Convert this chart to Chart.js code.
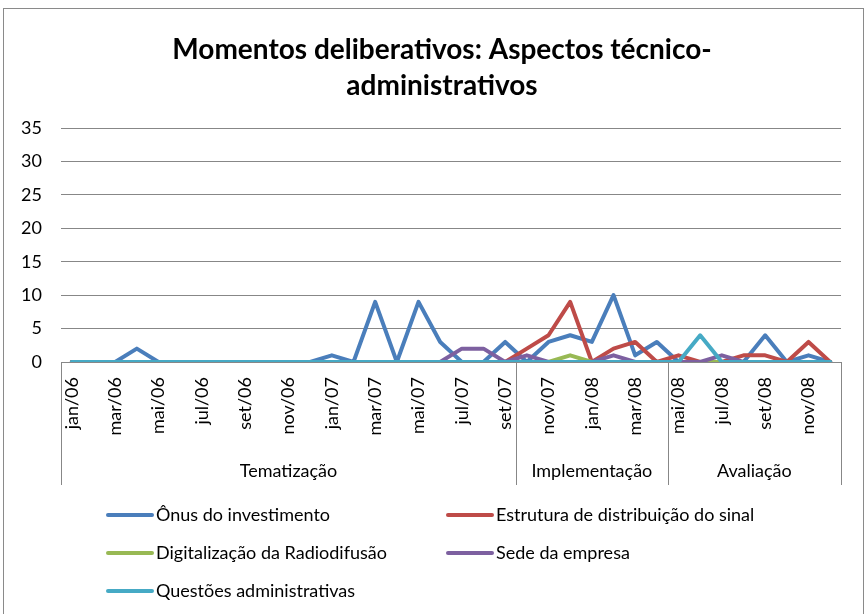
<!DOCTYPE html>
<html>
<head>
<meta charset="utf-8">
<script src="https://cdn.jsdelivr.net/npm/chart.js@4/dist/chart.umd.min.js"></script>
<style>
  html, body { margin: 0; padding: 0; background: #ffffff; }
  #wrap { position: relative; width: 867px; height: 614px; }
  canvas { display: block; }
</style>
</head>
<body>
<div id="wrap"><canvas id="chart" width="867" height="614"></canvas></div>
<script>
// Monthly categories, jan/06 .. dez/08
const months = [
  'jan/06','fev/06','mar/06','abr/06','mai/06','jun/06','jul/06','ago/06','set/06','out/06','nov/06','dez/06',
  'jan/07','fev/07','mar/07','abr/07','mai/07','jun/07','jul/07','ago/07','set/07','out/07','nov/07','dez/07',
  'jan/08','fev/08','mar/08','abr/08','mai/08','jun/08','jul/08','ago/08','set/08','out/08','nov/08','dez/08'
];

// Phase grouping of the months (second level of the category axis)
const phases = ['Tematização', 'Implementação', 'Avaliação'];
const phaseLengths = [21, 7, 8];

// Series
const onusInvestimento = [0,0,0,2,0,0,0,0,0,0,0,0, 1,0,9,0,9,3,0,0,3,0,3,4, 3,10,1,3,0,0,0,0,4,0,1,0];
const estruturaSinal   = [0,0,0,0,0,0,0,0,0,0,0,0, 0,0,0,0,0,0,0,0,0,2,4,9, 0,2,3,0,1,0,0,1,1,0,3,0];
const digitalizacao    = [0,0,0,0,0,0,0,0,0,0,0,0, 0,0,0,0,0,0,0,0,0,0,0,1, 0,0,0,0,0,0,0,0,0,0,0,0];
const sedeEmpresa      = [0,0,0,0,0,0,0,0,0,0,0,0, 0,0,0,0,0,0,2,2,0,1,0,0, 0,1,0,0,0,0,1,0,0,0,0,0];
const questoesAdmin    = [0,0,0,0,0,0,0,0,0,0,0,0, 0,0,0,0,0,0,0,0,0,0,0,0, 0,0,0,0,0,4,0,0,0,0,0,0];

const seriesNames = [
  'Ônus do investimento',
  'Estrutura de distribuição do sinal',
  'Digitalização da Radiodifusão',
  'Sede da empresa',
  'Questões administrativas'
];
const seriesColors = ['#4A7EBB', '#BE4B48', '#98B954', '#7D60A0', '#46AAC5'];

const yTicks = [0, 5, 10, 15, 20, 25, 30, 35];
const titleLines = ['Momentos deliberativos: Aspectos técnico-', 'administrativos'];

const FONT = 'Lato, "Open Sans", sans-serif';
const GRID = '#878787';

const seriesValues = [onusInvestimento, estruturaSinal, digitalizacao, sedeEmpresa, questoesAdmin];

const datasets = seriesValues.map((vals, i) => ({
  label: seriesNames[i],
  data: vals,
  borderColor: seriesColors[i],
  backgroundColor: seriesColors[i],
  borderWidth: 4,
  pointRadius: 0,
  pointHoverRadius: 0,
  tension: 0,
  fill: false,
  borderJoinStyle: 'round',
  borderCapStyle: 'round',
  order: seriesValues.length - i   // later series painted on top
}));

// Frame, title, phase brackets and legend drawn around the plot
const decorations = {
  id: 'decorations',
  beforeDraw(chart) {
    const ctx = chart.ctx;
    ctx.save();
    ctx.fillStyle = '#ffffff';
    ctx.fillRect(0, 0, chart.width, chart.height);
    ctx.strokeStyle = '#8a8a8a';
    ctx.lineWidth = 1;
    ctx.strokeRect(3.5, 8.5, 860, 700);
    ctx.restore();
  },
  afterDraw(chart) {
    const ctx = chart.ctx;
    const xs = chart.scales.x;
    const area = chart.chartArea;
    ctx.save();

    // title
    ctx.fillStyle = '#000000';
    ctx.textAlign = 'center';
    ctx.textBaseline = 'middle';
    ctx.font = 'bold 28px ' + FONT;
    ctx.fillText(titleLines[0], 442, 50);
    ctx.fillText(titleLines[1], 442, 86);

    // phase separators and names
    const bottom = area.bottom + 123;
    const edges = [area.left];
    let count = 0;
    phaseLengths.forEach((n, k) => {
      count += n;
      if (k === phaseLengths.length - 1) {
        edges.push(area.right);
      } else {
        edges.push((xs.getPixelForValue(count - 1) + xs.getPixelForValue(count)) / 2);
      }
    });
    ctx.strokeStyle = GRID;
    ctx.lineWidth = 1;
    edges.forEach(px => {
      const x = Math.round(px) + 0.5;
      ctx.beginPath();
      ctx.moveTo(x, area.bottom);
      ctx.lineTo(x, bottom);
      ctx.stroke();
    });
    ctx.font = '18px ' + FONT;
    ctx.fillStyle = '#000000';
    phases.forEach((name, k) => {
      ctx.fillText(name, (edges[k] + edges[k + 1]) / 2, area.bottom + 109);
    });

    // legend
    const colX = [108, 448];
    const rowY = [515, 553, 591];
    ctx.textAlign = 'left';
    chart.data.datasets.forEach((ds, i) => {
      const x = colX[i % 2];
      const y = rowY[Math.floor(i / 2)];
      ctx.strokeStyle = ds.borderColor;
      ctx.lineWidth = 4;
      ctx.lineCap = 'round';
      ctx.beginPath();
      ctx.moveTo(x, y);
      ctx.lineTo(x + 44, y);
      ctx.stroke();
      ctx.fillStyle = '#000000';
      ctx.fillText(ds.label, x + 48, y);
    });
    ctx.restore();
  }
};

new Chart(document.getElementById('chart'), {
  type: 'line',
  data: { labels: months, datasets },
  options: {
    responsive: false,
    devicePixelRatio: 1,
    animation: false,
    layout: { padding: { left: 0, right: 15, top: 128, bottom: 0 } },
    plugins: {
      legend: { display: false },
      title: { display: false },
      tooltip: { enabled: false }
    },
    scales: {
      x: {
        type: 'category',
        offset: true,
        grid: { display: false, drawTicks: false },
        border: { display: true, color: GRID, width: 1 },
        ticks: {
          autoSkip: false,
          maxRotation: 90,
          minRotation: 90,
          padding: 15,
          color: '#000000',
          font: { family: FONT, size: 18 },
          callback: (v, i) => (i % 2 === 0 ? months[i] : '')
        },
        afterFit: s => { s.height = 252; }
      },
      y: {
        min: 0,
        max: 35,
        afterBuildTicks: s => { s.ticks = yTicks.map(v => ({ value: v })); },
        grid: { color: GRID, lineWidth: 1, drawTicks: false },
        border: { display: false },
        ticks: {
          padding: 19,
          color: '#000000',
          font: { family: FONT, size: 18 }
        },
        afterFit: s => { s.width = 61; }
      }
    }
  },
  plugins: [decorations]
});
</script>
</body>
</html>
